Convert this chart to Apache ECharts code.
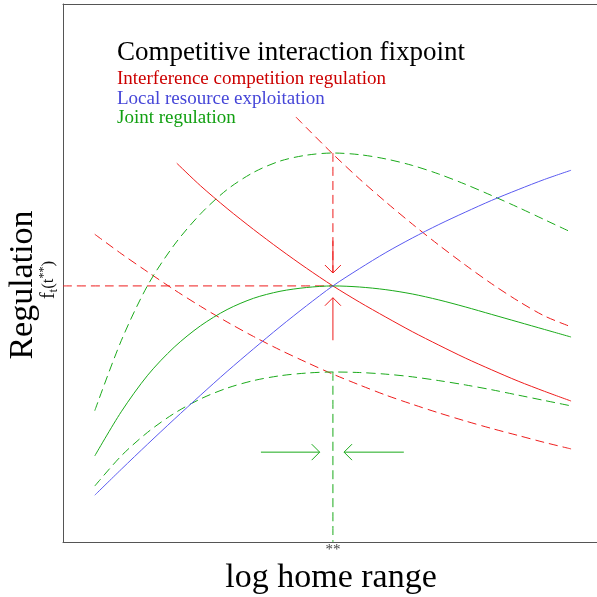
<!DOCTYPE html>
<html>
<head>
<meta charset="utf-8">
<script src="https://cdn.jsdelivr.net/npm/echarts@6/dist/echarts.min.js"></script>
<style>
  html, body { margin: 0; padding: 0; background: #fff; }
  #chart { width: 597px; height: 597px; }
</style>
</head>
<body>
<div id="chart"></div>
<script>
// sample positions along log home range
var xGrid = [0, 0.5, 1, 1.5, 2, 2.5, 3, 3.5, 4, 4.5, 5, 5.5, 6, 6.5, 7, 7.5, 8, 8.5, 9];

// local resource exploitation (blue)
var localRes = [0.87, 1.35, 1.82, 2.28, 2.73, 3.17, 3.59, 4.00, 4.39, 4.76, 5.08, 5.38, 5.65, 5.90, 6.13, 6.35, 6.55, 6.74, 6.91];
// joint regulation (green) and its two dashed variants
var joint = [1.60, 2.42, 3.10, 3.62, 4.02, 4.32, 4.53, 4.66, 4.73, 4.76, 4.74, 4.69, 4.61, 4.50, 4.37, 4.23, 4.09, 3.95, 3.81];
var jointHigh = [2.44, 3.74, 4.77, 5.52, 6.10, 6.55, 6.87, 7.08, 7.19, 7.23, 7.20, 7.12, 7.00, 6.84, 6.65, 6.44, 6.22, 5.99, 5.76];
var jointLow = [1.04, 1.60, 2.04, 2.39, 2.66, 2.86, 3.00, 3.09, 3.14, 3.16, 3.15, 3.12, 3.07, 3.00, 2.92, 2.83, 2.73, 2.63, 2.53];
// interference competition (red)
var interX = [1.55, 2, 2.5, 3, 3.5, 4, 4.5, 5, 5.5, 6, 6.5, 7, 7.5, 8, 8.5, 9];
var interf = [7.04, 6.62, 6.20, 5.81, 5.44, 5.09, 4.76, 4.46, 4.18, 3.91, 3.66, 3.42, 3.20, 2.99, 2.80, 2.62];
var interHighX = [3.8, 4, 4.5, 5, 5.5, 6, 6.5, 7, 7.5, 8, 8.5, 9];
var interHigh = [7.90, 7.70, 7.21, 6.75, 6.32, 5.91, 5.52, 5.15, 4.80, 4.48, 4.20, 4.00];
var interLow = [5.72, 5.36, 5.02, 4.69, 4.38, 4.09, 3.82, 3.57, 3.34, 3.12, 2.92, 2.73, 2.56, 2.40, 2.25, 2.11, 1.98, 1.85, 1.73];

// fixpoint and arrows [x0, y0, x1, y1]
var fix = [4.5, 4.76];
var redArrows = [[4.5, 5.6, 4.5, 5.0], [4.5, 3.75, 4.5, 4.54]];
var greenArrows = [[3.14, 1.67, 4.25, 1.67], [5.84, 1.67, 4.71, 1.67]];

var RED = '#ee1c1c', BLUE = '#5a5af0', GREEN = '#1aaa1a';
var SERIF = '"Liberation Serif", "DejaVu Serif", serif';

function pairs(xs, ys) { return xs.map(function (x, i) { return [x, ys[i]]; }); }

function curve(data, color, dashed) {
  return {
    type: 'line', data: data, showSymbol: false, smooth: 0.3, silent: true,
    lineStyle: { color: color, width: 1, type: dashed ? [9, 5] : 'solid' }
  };
}

function arrowItem(params, api) {
  var a = api.coord([api.value(0), api.value(1)]);
  var b = api.coord([api.value(2), api.value(3)]);
  var dx = b[0] - a[0], dy = b[1] - a[1];
  var len = Math.sqrt(dx * dx + dy * dy);
  var ux = dx / len, uy = dy / len;
  var back = 8, half = 8;
  var w1 = [b[0] - ux * back - uy * half, b[1] - uy * back + ux * half];
  var w2 = [b[0] - ux * back + uy * half, b[1] - uy * back - ux * half];
  var st = { stroke: api.visual('color'), lineWidth: 1, fill: null };
  return {
    type: 'group',
    children: [
      { type: 'line', shape: { x1: a[0], y1: a[1], x2: b[0], y2: b[1] }, style: st },
      { type: 'polyline', shape: { points: [w1, b, w2] }, style: st }
    ]
  };
}

var frame = { show: true, onZero: false, lineStyle: { color: '#555', width: 1 } };
var bare = { axisLine: frame, axisTick: { show: false }, axisLabel: { show: false }, splitLine: { show: false } };

var chart = echarts.init(document.getElementById('chart'));
chart.setOption({
  animation: false,
  grid: { left: 63, top: 4, right: 0, bottom: 55 },
  xAxis: [
    Object.assign({ type: 'value', min: -0.6, max: 9.49, position: 'bottom' }, bare),
    Object.assign({ type: 'value', min: -0.6, max: 9.49, position: 'top' }, bare)
  ],
  yAxis: Object.assign({ type: 'value', min: 0, max: 10, position: 'left' }, bare),
  series: [
    // reference lines through the fixpoint
    curve([[-0.6, fix[1]], fix], RED, true),
    curve([[fix[0], jointHigh[9]], [fix[0], 5.0]], RED, true),
    curve([[fix[0], jointLow[9]], [fix[0], 0]], GREEN, true),
    curve(pairs(interHighX, interHigh), RED, true),
    curve(pairs(xGrid, interLow), RED, true),
    curve(pairs(xGrid, jointHigh), GREEN, true),
    curve(pairs(xGrid, jointLow), GREEN, true),
    curve(pairs(interX, interf), RED, false),
    curve(pairs(xGrid, joint), GREEN, false),
    curve(pairs(xGrid, localRes), BLUE, false),
    { type: 'custom', renderItem: arrowItem, data: redArrows, itemStyle: { color: RED }, silent: true },
    { type: 'custom', renderItem: arrowItem, data: greenArrows, itemStyle: { color: GREEN }, silent: true }
  ]
});

var fp = chart.convertToPixel({ gridIndex: 0 }, fix);
var base = chart.convertToPixel({ gridIndex: 0 }, [fix[0], 0]);

chart.setOption({
  graphic: [
    { type: 'text', x: 117, y: 53, style: { text: 'Competitive interaction fixpoint', font: '27px ' + SERIF, fill: '#000', verticalAlign: 'middle' } },
    { type: 'text', x: 117, y: 79, style: { text: 'Interference competition regulation', font: '19px ' + SERIF, fill: '#cc0000', verticalAlign: 'middle' } },
    { type: 'text', x: 117, y: 99, style: { text: 'Local resource exploitation', font: '19px ' + SERIF, fill: '#4646d8', verticalAlign: 'middle' } },
    { type: 'text', x: 117, y: 118, style: { text: 'Joint regulation', font: '19px ' + SERIF, fill: '#12a012', verticalAlign: 'middle' } },
    { type: 'text', x: 23, y: 285, rotation: Math.PI / 2,
      style: { text: 'Regulation', font: '34px ' + SERIF, fill: '#000', align: 'center', verticalAlign: 'middle' } },
    { type: 'text', x: 331, y: 578,
      style: { text: 'log home range', font: '34px ' + SERIF, fill: '#000', align: 'center', verticalAlign: 'middle' } },
    { type: 'text', x: base[0], y: base[1] + 8,
      style: { text: '**', font: '15px ' + SERIF, fill: '#444', align: 'center', verticalAlign: 'middle' } },
    { type: 'text', x: 49, y: fp[1] - 6, rotation: Math.PI / 2,
      style: {
        text: '{f|f}{s|t}{p|(t}{u|**}{p|)}', align: 'center', verticalAlign: 'middle', fill: '#111',
        rich: {
          f: { font: '20px ' + SERIF, lineHeight: 22, verticalAlign: 'middle' },
          s: { font: '13px ' + SERIF, lineHeight: 22, verticalAlign: 'bottom' },
          p: { font: '17px ' + SERIF, lineHeight: 22, verticalAlign: 'middle' },
          u: { font: '12px ' + SERIF, lineHeight: 22, verticalAlign: 'top' }
        }
      } }
  ]
});
</script>
</body>
</html>
